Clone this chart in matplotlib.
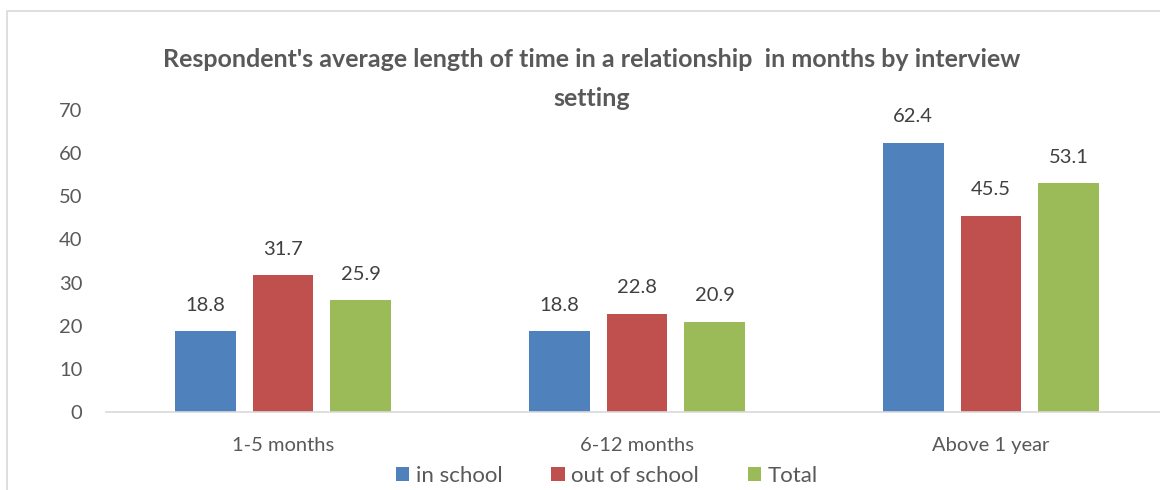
import matplotlib
matplotlib.use('Agg')
import matplotlib.pyplot as plt
from matplotlib.patches import Rectangle
import numpy as np

categories = ['1-5 months', '6-12 months', 'Above 1 year']
series = ['in school', 'out of school', 'Total']
in_school = [18.8, 18.8, 62.4]
out_of_school = [31.7, 22.8, 45.5]
total = [25.9, 20.9, 53.1]
colors = ['#4F81BD', '#C0504D', '#9BBB59']
title = "Respondent's average length of time in a relationship  in months by interview\nsetting"

plt.rcParams['font.family'] = ['Lato', 'DejaVu Sans']
text_col = '#595959'

fig = plt.figure(figsize=(11.6, 4.9), dpi=100)
# chart border (cropped at right and bottom)
fig.patches.append(Rectangle((7 / 1160, -0.1), 1.2, 1.1 - 11 / 490, transform=fig.transFigure,
                             fill=False, edgecolor='#D9D9D9', linewidth=1.2))

ax = fig.add_axes([106 / 1160, 78 / 490, 1062 / 1160, 302 / 490])
x = np.arange(len(categories))
w = 0.172
step = 0.22
for i, (vals, name) in enumerate(zip([in_school, out_of_school, total], series)):
    bars = ax.bar(x + (i - 1) * step, vals, w, color=colors[i], label=name)
    for b, v in zip(bars, vals):
        ax.text(b.get_x() + b.get_width() / 2, v + 6.0, f'{v:.1f}', ha='center', va='center',
                fontsize=14.5, color='#404040')

ax.set_xlim(-0.5, 2.5)
ax.set_ylim(0, 70)
ax.set_yticks(range(0, 71, 10))
ax.set_xticks(x)
ax.set_xticklabels(categories)
ax.tick_params(axis='both', length=0, labelsize=14.5, labelcolor=text_col)
ax.tick_params(axis='y', pad=17)
ax.tick_params(axis='x', pad=18)
for s in ['top', 'right', 'left']:
    ax.spines[s].set_visible(False)
ax.spines['bottom'].set_color('#D9D9D9')
ax.spines['bottom'].set_linewidth(1.2)

fig.text(592 / 1160, 1 - 79 / 490, title, ha='center', va='center', fontsize=18,
         fontweight='bold', color=text_col, linespacing=1.8)

fig.legend(loc='center', bbox_to_anchor=(607 / 1160, 1 - 476 / 490), ncol=3, frameon=False,
           fontsize=16, labelcolor=text_col, handlelength=0.6, handleheight=0.6,
           handletextpad=0.3, columnspacing=2.2)

fig.savefig('out.png', dpi=100)
